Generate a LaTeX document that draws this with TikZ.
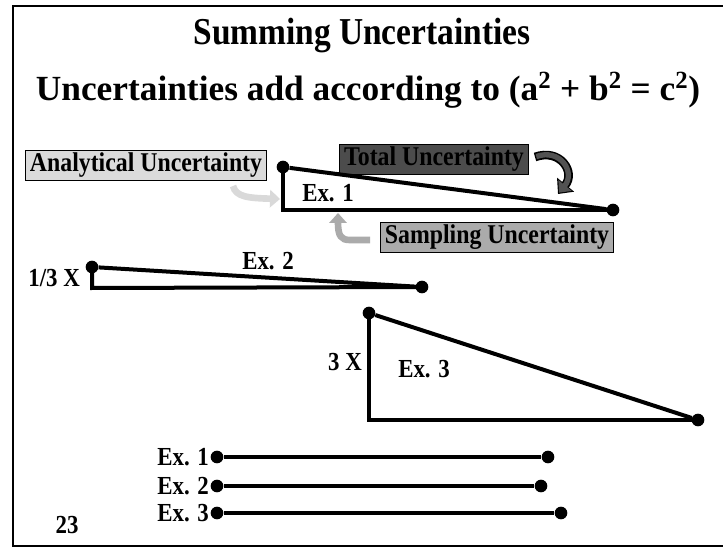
\documentclass[tikz,border=0pt]{standalone}
\usepackage{fontspec}
\setmainfont{Liberation Serif}
\newfontfamily\tallfont{Liberation Serif}[FakeStretch=0.88]
\usetikzlibrary{arrows.meta,positioning}

\begin{document}
\begin{tikzpicture}[
  x=0.75pt, y=-0.75pt,
  font=\tallfont\bfseries\fontsize{19.5}{22}\selectfont,
  tag/.style={draw=black, line width=0.6pt, inner xsep=3.5pt, inner ysep=0pt, minimum height=22.5pt,
              font=\tallfont\bfseries\fontsize{20.3}{22}\selectfont},
  dot/.style={circle, fill=black, inner sep=0pt, minimum size=9.5pt},
  leg/.style={line width=3pt, line join=miter},
  curlarrow/.style={line width=5pt, -{Triangle[length=7.5pt,width=13pt]}},
  lbl/.style={inner sep=1pt}
]
\useasboundingbox (0,0) rectangle (723,548);
\draw[line width=2.2pt] (740,6) -- (13,6) -- (13,546) -- (740,546);

\node (title) at (362,36) {\fontsize{28.5}{32}\selectfont Summing Uncertainties};
\node (sub) at (368,90) {\normalfont\bfseries\fontsize{26.5}{30}\selectfont Uncertainties add according to (a\textsuperscript{2} + b\textsuperscript{2} = c\textsuperscript{2})};

% labelled boxes and their arrows
\node[tag, fill=black!14] (ana) at (146,165) {Analytical Uncertainty};
\node[tag, fill=black!70] (tot) at (434,159) {Total Uncertainty};
\node[tag, fill=black!33] (samp) at (497,237) {Sampling Uncertainty};

\coordinate (anafrom) at (233,186);
\coordinate (anato) at (280,199);
\coordinate (sampfrom) at (370,240);
\coordinate (sampto) at (338,213);
\coordinate (totfrom) at (535,157);
\coordinate (totto) at (558,194);
\draw[curlarrow, black!15] (anafrom) .. controls (236,197) and (248,198) .. (anato);
\draw[curlarrow, black!33] (sampfrom) -- (350,240) .. controls (341,240) and (338,236) .. (sampto);
\draw[line width=6.5pt, -{Triangle[length=9pt,width=16pt]}] (totfrom) .. controls (560,148) and (576,172) .. (totto);
\draw[line width=4pt, black!68, shorten >=1.3pt, shorten <=1pt, -{Triangle[length=7pt,width=12.5pt]}] (totfrom) .. controls (560,148) and (576,172) .. (totto);

% Ex. 1
\node[dot] (t1a) at (283,167) {};
\coordinate (t1b) at (283,210);
\node[dot] (t1c) at (613,210) {};
\draw[leg] (t1a.center) -- (t1b) -- (t1c.center);
\draw[leg] (t1a) -- (t1c);
\node (t1lbl) at (328,193) {Ex. 1};

% Ex. 2
\node[dot] (t2a) at (92,267) {};
\coordinate (t2b) at (92,288);
\node[dot] (t2c) at (422,287) {};
\draw[leg] (t2a.center) -- (t2b) -- (t2c.center);
\draw[leg] (t2a) -- (t2c);
\node[lbl, left=3pt of t2a, yshift=-8pt] (t2side) {1/3 X};
\node (t2lbl) at (268,261) {Ex. 2};

% Ex. 3
\node[dot] (t3a) at (369,313) {};
\coordinate (t3b) at (369,420);
\node[dot] (t3c) at (698,420) {};
\draw[leg] (t3a.center) -- (t3b) -- (t3c.center);
\draw[leg] (t3a) -- (t3c);
\node (t3side) at (345,362) {3 X};
\node (t3lbl) at (424,369) {Ex. 3};

% hypotenuses side by side
\node[dot] (h1a) at (217,457) {};
\node[dot] (h1b) at (548,457) {};
\node[dot] (h2a) at (217,486) {};
\node[dot] (h2b) at (541,486) {};
\node[dot] (h3a) at (217,513) {};
\node[dot] (h3b) at (561,513) {};
\draw[leg] (h1a) -- (h1b);
\draw[leg, line width=2.4pt] (h2a) -- (h2b);
\draw[leg] (h3a) -- (h3b);
\node[lbl, left=0pt of h1a] (h1lbl) {Ex. 1};
\node[lbl, left=0pt of h2a] (h2lbl) {Ex. 2};
\node[lbl, left=0pt of h3a] (h3lbl) {Ex. 3};

\node (page) at (67,525) {23};
\end{tikzpicture}
\end{document}
